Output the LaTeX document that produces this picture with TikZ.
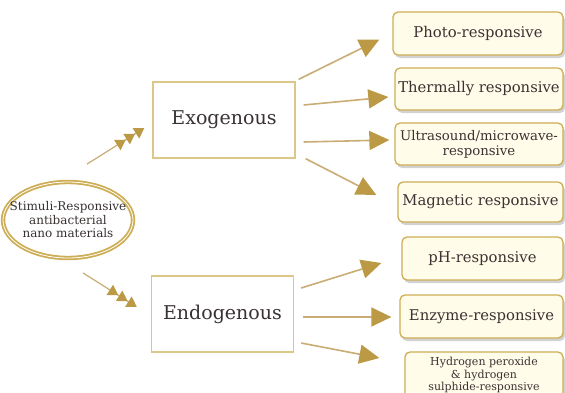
\documentclass[tikz,border=0pt]{standalone}
\usepackage{fontspec}
\setmainfont{DejaVu Serif}
\usetikzlibrary{arrows.meta,shapes.geometric,shadows,calc}
\definecolor{gold}{HTML}{CDAE55}
\definecolor{goldline}{HTML}{C9AD75}
\definecolor{goldhead}{HTML}{BC9A45}
\definecolor{cream}{HTML}{FFFCEA}
\definecolor{txt}{HTML}{3A3232}
\begin{document}
\begin{tikzpicture}[x=1pt,y=-1pt,
  resp/.style={draw=gold, line width=1.3pt, rounded corners=5pt, fill=cream,
    drop shadow={shadow xshift=2pt, shadow yshift=-3pt, opacity=0.35, fill=gray},
    text=txt, align=center, inner sep=1pt, font=\fontsize{14.8}{17}\selectfont},
  catbox/.style={draw=gold!70, line width=1.3pt, fill=white, text=txt,
    minimum width=142pt, minimum height=76pt, font=\fontsize{19}{22}\selectfont},
  arr/.style={draw=goldline, line width=1.6pt, -{Triangle[length=20pt,width=19pt,color=goldhead]}},
  triarr/.style={draw=goldline, line width=1.2pt,
    -{Triangle[length=10pt,width=12pt,sep=1pt,color=goldhead]Triangle[length=10pt,width=12pt,sep=1pt,color=goldhead]Triangle[length=10pt,width=12pt,color=goldhead]}}]
\useasboundingbox (0,0) rectangle (565,392);
\fill[white] (0,0) rectangle (565,392);

\node[ellipse, draw=gold, line width=1.8pt, double=white, double distance=0.8pt, fill=white,
  minimum width=130pt, minimum height=76pt, inner sep=0pt] (ell) at (68,220) {};
\node[align=center, text=txt, inner sep=0pt, font=\fontsize{12}{13.5}\selectfont] (elltxt) at (ell.center)
  {Stimuli-Responsive\\antibacterial\\nano materials};

\node[catbox] (exo) at (224,120) {Exogenous};
\node[catbox] (endo) at (222.5,314) {Endogenous};

\node[resp, minimum width=170pt, minimum height=43pt] (photo) at (478,33.5) {Photo-responsive};
\node[resp, minimum width=168pt, minimum height=42pt] (therm) at (479,89) {Thermally responsive};
\node[resp, minimum width=168pt, minimum height=42pt, font=\fontsize{13.3}{15}\selectfont] (ultra) at (479,144) {Ultrasound/microwave-\\responsive};
\node[resp, minimum width=165pt, minimum height=40pt] (mag) at (480.5,202) {Magnetic responsive};
\node[resp, minimum width=161pt, minimum height=43pt] (ph) at (482.5,258.5) {pH-responsive};
\node[resp, minimum width=163pt, minimum height=43pt] (enz) at (481.5,316.5) {Enzyme-responsive};
\node[resp, minimum width=158pt, minimum height=46pt, font=\fontsize{11}{12.5}\selectfont] (hyd) at (484,375) {Hydrogen peroxide\\\& hydrogen\\sulphide-responsive};

\draw[triarr] ($(ell.north)+(19,-17)$) -- ($(exo.west)+(-8,8)$);
\draw[triarr] ($(ell.south)+(15,14)$) -- ($(endo.west)+(-14,-7)$);

\draw[arr] ($(exo.north east)+(3,-2)$) -- ($(photo.west)+(-13,6)$);
\draw[arr] ($(exo.east)+(8,-15)$) -- ($(therm.west)+(-6,8)$);
\draw[arr] ($(exo.east)+(8,22)$) -- ($(ultra.west)+(-5,-4)$);
\draw[arr] ($(exo.south east)+(10,0)$) -- ($(mag.west)+(-21,-7)$);

\draw[arr] ($(endo.east)+(7,-26)$) -- ($(ph.west)+(-20,4.5)$);
\draw[arr] ($(endo.east)+(9,3)$) -- ($(enz.west)+(-8,0.5)$);
\draw[arr] ($(endo.east)+(7,29)$) -- ($(hyd.west)+(-25,-17)$);
\end{tikzpicture}
\end{document}
